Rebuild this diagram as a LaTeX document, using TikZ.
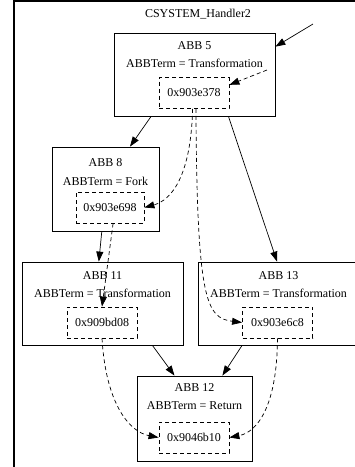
\documentclass[tikz,border=0pt]{standalone}
\usepackage{fontspec}
\setmainfont{Liberation Serif}
\usetikzlibrary{arrows.meta}
\tikzset{
  abbbox/.style={draw, line width=0.8pt, inner sep=0},
  addrbox/.style={draw, dash pattern=on 4pt off 3pt, line width=0.8pt,
    minimum width=70pt, minimum height=31pt, inner sep=0},
  txt/.style={inner sep=0},
  flow/.style={-{Triangle[length=10pt,width=7pt]}, line width=0.7pt},
  dep/.style={flow, dash pattern=on 4pt off 3pt},
}
\begin{document}
\begin{tikzpicture}[x=1pt,y=-1pt,font=\fontsize{12}{14}\selectfont]
  \useasboundingbox (0,0) rectangle (355,467);
  % cluster frame
  \draw[line width=1.2pt] (14,467) -- (14,1) -- (355,1);
  \node[txt] (title) at (198,14) {CSYSTEM\_Handler2};
  % blocks
  \node[abbbox, minimum width=161pt, minimum height=83pt] (abb5) at (194.5,74.5) {};
  \node[txt] (abb5n) at (194.5,46) {ABB 5};
  \node[txt] (abb5t) at (194.5,63) {ABBTerm = Transformation};
  \node[addrbox] (a5) at (194,93) {0x903e378};
  \node[abbbox, minimum width=107pt, minimum height=84pt] (abb8) at (105.5,189) {};
  \node[txt] (abb8n) at (105.5,163) {ABB 8};
  \node[txt] (abb8t) at (105.5,181) {ABBTerm = Fork};
  \node[addrbox, minimum width=68pt] (a8) at (110,207.5) {0x903e698};
  \node[abbbox, minimum width=161pt, minimum height=83pt] (abb11) at (102.5,303.5) {};
  \node[txt] (abb11n) at (102.5,276) {ABB 11};
  \node[txt] (abb11t) at (102.5,293) {ABBTerm = Transformation};
  \node[addrbox] (a11) at (102,322.5) {0x909bd08};
  \node[abbbox, minimum width=161pt, minimum height=83pt] (abb13) at (278.5,303.5) {};
  \node[txt] (abb13n) at (278.5,276) {ABB 13};
  \node[txt] (abb13t) at (278.5,293) {ABBTerm = Transformation};
  \node[addrbox] (a13) at (277.5,322.5) {0x903e6c8};
  \node[abbbox, minimum width=115pt, minimum height=85pt] (abb12) at (194.5,418.5) {};
  \node[txt] (abb12n) at (194.5,388) {ABB 12};
  \node[txt] (abb12t) at (194.5,406) {ABBTerm = Return};
  \node[addrbox] (a12) at (194,437.5) {0x9046b10};
  % entry
  \coordinate (in1) at (313,24);
  \coordinate (in2) at (267,70);
  \draw[flow] (in1) -- (abb5.19);
  \draw[dep] (in2) -- (a5.13);
  % control flow
  \draw[flow] (abb5.224) -- (abb8.60);
  \draw[flow] (abb5.309) -- (abb13.92);
  \draw[flow] (abb8.265) -- (abb11.95);
  \draw[flow] (abb11.320) -- (abb12.115);
  \draw[flow] (abb13.229) -- (abb12.57);
  % dependencies
  \draw[dep] (a5.265) .. controls (191,175) and (172,200) .. (a8.east);
  \draw[dep] (a5.277) .. controls (197,300) and (206,318) .. (a13.west);
  \draw[dep] (a8.281) -- (a11.north);
  \draw[dep] (a11.south) .. controls (106,405) and (130,432) .. (a12.west);
  \draw[dep] (a13.south) .. controls (277,405) and (258,432) .. (a12.east);
\end{tikzpicture}
\end{document}
